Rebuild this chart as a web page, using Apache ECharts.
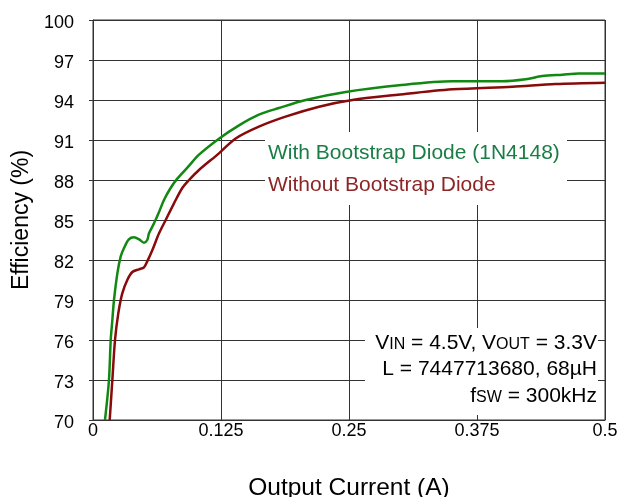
<!DOCTYPE html>
<html>
<head>
<meta charset="utf-8">
<script src="https://cdn.jsdelivr.net/npm/echarts@6/dist/echarts.min.js"></script>
<style>
  html, body { margin: 0; padding: 0; background: #fff; }
  #eff-chart { width: 622px; height: 497px; }
</style>
</head>
<body>
<div id="eff-chart"></div>
<script>
// efficiency vs output current
var withDiodeX = [0.0117, 0.0156, 0.0173, 0.0189, 0.0205, 0.0238, 0.027, 0.0303, 0.035, 0.04,
    0.045, 0.0498, 0.053, 0.0547, 0.0596, 0.0645, 0.0693, 0.0758, 0.0823, 0.093,
    0.1035, 0.123, 0.1426, 0.162, 0.1816, 0.2077, 0.2468, 0.2988, 0.3509, 0.3997,
    0.4225, 0.4388, 0.4583, 0.4746, 0.5];
var withDiodeY = [70, 73, 76, 77.5, 79, 81, 82.25, 82.9, 83.55, 83.7,
    83.55, 83.3, 83.5, 84, 84.75, 85.6, 86.5, 87.4, 88.1, 89.0,
    89.9, 91.1, 92.1, 92.9, 93.4, 94.0, 94.6, 95.1, 95.4, 95.4,
    95.55, 95.8, 95.9, 95.98, 95.98];

var noDiodeX = [0.0163, 0.0189, 0.0215, 0.0247, 0.0286, 0.0335, 0.0384, 0.045, 0.0498, 0.053,
    0.058, 0.0645, 0.071, 0.0791, 0.0872, 0.0938, 0.1035, 0.123, 0.139, 0.162,
    0.188, 0.2207, 0.2533, 0.2956, 0.3509, 0.4095, 0.4518, 0.5];
var noDiodeY = [70, 73, 76, 78, 79.5, 80.5, 81.1, 81.3, 81.45, 81.9,
    82.75, 84, 85, 86.25, 87.4, 88, 88.75, 90, 91.1, 92,
    92.75, 93.5, 94, 94.375, 94.8, 95, 95.2, 95.3];

var xTicks = [0, 0.125, 0.25, 0.375, 0.5];
var yTicks = [70, 73, 76, 79, 82, 85, 88, 91, 94, 97, 100];

var FONT = 'Liberation Sans, Arial, sans-serif';

function pairs(xs, ys) {
    var out = [];
    for (var i = 0; i < xs.length; i++) {
        out.push([xs[i], ys[i]]);
    }
    return out;
}

var subRich = {
    n: { fontFamily: FONT, fontSize: 21, color: '#000', height: 23 },
    s: { fontFamily: FONT, fontSize: 16, color: '#000', verticalAlign: 'bottom', height: 19 }
};

var chart = echarts.init(document.getElementById('eff-chart'));

var option = {
    animation: false,
    backgroundColor: '#fff',
    grid: {
        left: 93,
        right: 17,
        top: 20,
        bottom: 77,
        outerBoundsMode: 'none',
        containLabel: false,
        show: true,
        borderColor: '#333',
        borderWidth: 1
    },
    xAxis: {
        type: 'value',
        min: xTicks[0],
        max: xTicks[xTicks.length - 1],
        interval: 0.125,
        name: 'Output Current (A)',
        nameLocation: 'middle',
        nameGap: 56,
        nameTextStyle: { fontFamily: FONT, fontSize: 24.5, color: '#000' },
        axisLine: { lineStyle: { color: '#333', width: 1 } },
        axisTick: { show: true, inside: true, length: 5, lineStyle: { color: '#333' } },
        axisLabel: {
            fontFamily: FONT, fontSize: 18, color: '#000', margin: 2,
            formatter: function (v) { return String(v); }
        },
        splitLine: { show: true, lineStyle: { color: '#333', width: 1 } }
    },
    yAxis: {
        type: 'value',
        min: yTicks[0],
        max: yTicks[yTicks.length - 1],
        interval: 3,
        name: 'Efficiency (%)',
        nameLocation: 'middle',
        nameGap: 60,
        nameTextStyle: { fontFamily: FONT, fontSize: 23, color: '#000' },
        axisLine: { lineStyle: { color: '#333', width: 1 } },
        axisTick: { show: true, inside: false, length: 4, lineStyle: { color: '#333' } },
        axisLabel: {
            margin: 19,
            formatter: function (v) { return '{v|' + v + '}'; },
            rich: {
                v: { fontFamily: FONT, fontSize: 18, color: '#000', padding: [6, 0, 0, 0] }
            }
        },
        splitLine: { show: true, lineStyle: { color: '#333', width: 1 } }
    },
    graphic: [
        {
            type: 'rect', z: 1, silent: true,
            shape: { x: 265, y: 132, width: 302, height: 73 },
            style: { fill: '#fff' }
        },
        {
            type: 'text', z: 2, silent: true, x: 268, y: 153,
            style: {
                text: 'With Bootstrap Diode (1N4148)',
                fill: '#1a7d45', fontFamily: FONT, fontSize: 21,
                align: 'left', verticalAlign: 'middle'
            }
        },
        {
            type: 'text', z: 2, silent: true, x: 268, y: 185,
            style: {
                text: 'Without Bootstrap Diode',
                fill: '#8c2626', fontFamily: FONT, fontSize: 21,
                align: 'left', verticalAlign: 'middle'
            }
        },
        {
            type: 'rect', z: 1, silent: true,
            shape: { x: 365, y: 328, width: 233, height: 87 },
            style: { fill: '#fff' }
        },
        {
            type: 'text', z: 2, silent: true, x: 597, y: 343,
            style: {
                text: '{n|V}{s|IN}{n| = 4.5V, V}{s|OUT}{n| = 3.3V}',
                align: 'right', verticalAlign: 'middle',
                rich: subRich
            }
        },
        {
            type: 'text', z: 2, silent: true, x: 597, y: 369,
            style: {
                text: 'L = 7447713680, 68\u00b5H',
                fill: '#000', fontFamily: FONT, fontSize: 21,
                align: 'right', verticalAlign: 'middle'
            }
        },
        {
            type: 'text', z: 2, silent: true, x: 597, y: 396,
            style: {
                text: '{n|f}{s|SW}{n| = 300kHz}',
                align: 'right', verticalAlign: 'middle',
                rich: subRich
            }
        }
    ],
    series: [
        {
            name: 'With Bootstrap Diode (1N4148)',
            type: 'line',
            smooth: 0.3,
            showSymbol: false,
            z: 3,
            lineStyle: { color: '#118811', width: 2.5 },
            itemStyle: { color: '#118811' },
            data: pairs(withDiodeX, withDiodeY)
        },
        {
            name: 'Without Bootstrap Diode',
            type: 'line',
            smooth: 0.3,
            showSymbol: false,
            z: 3,
            lineStyle: { color: '#880a0a', width: 2.5 },
            itemStyle: { color: '#880a0a' },
            data: pairs(noDiodeX, noDiodeY)
        }
    ]
};

chart.setOption(option);
</script>
</body>
</html>
